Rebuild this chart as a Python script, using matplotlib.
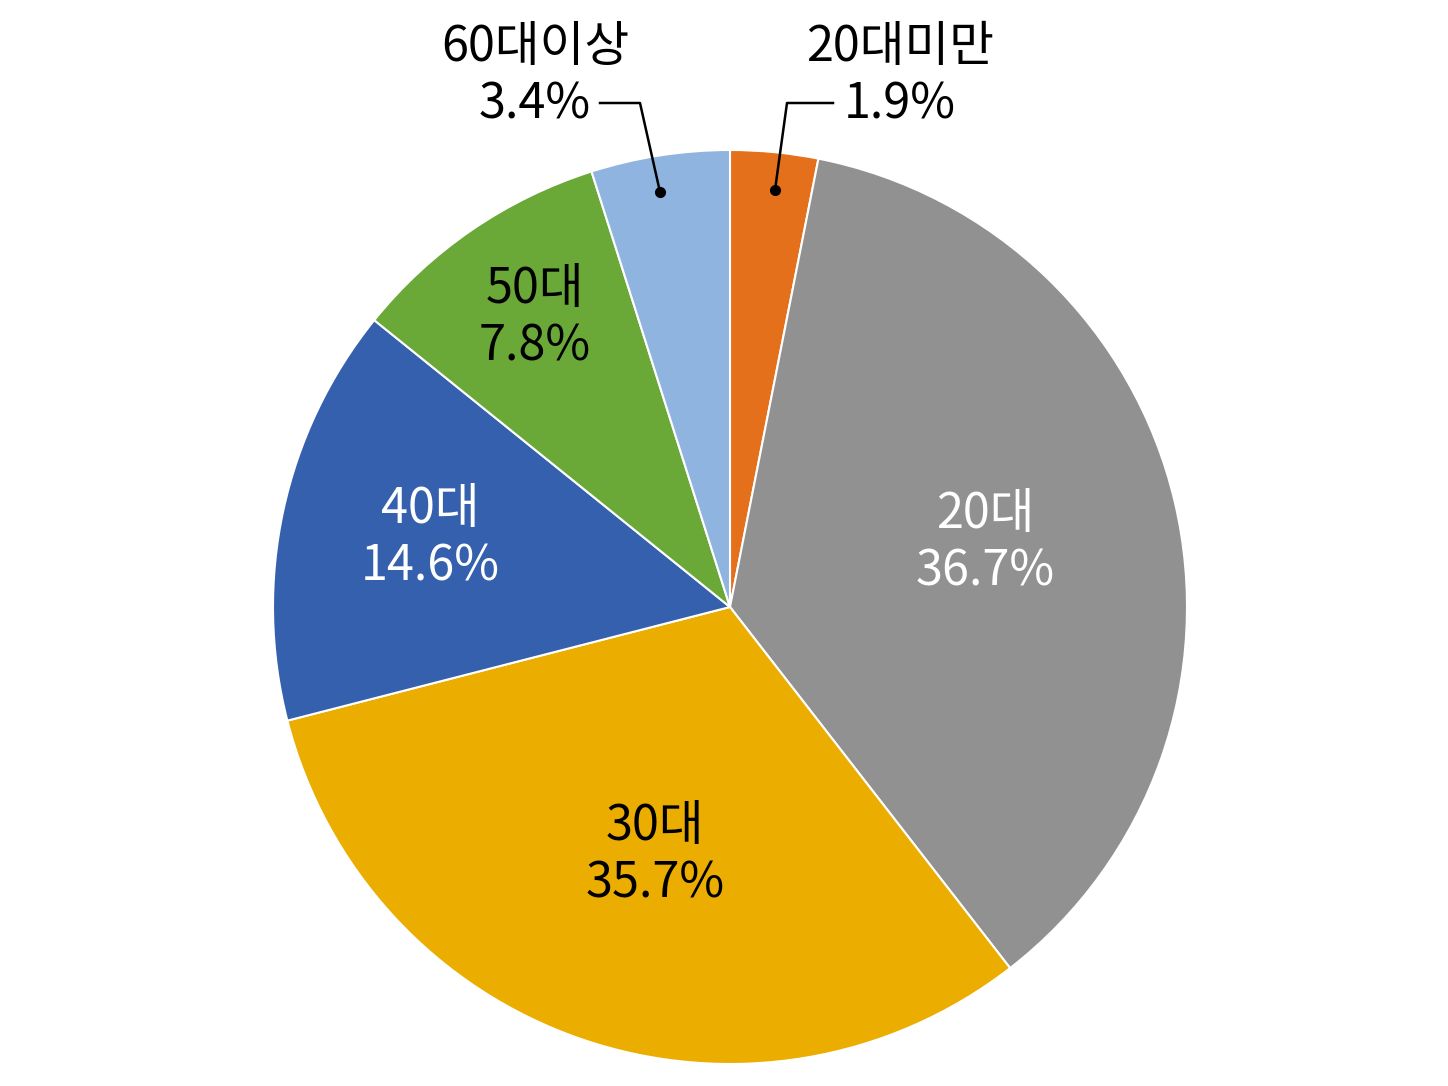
import matplotlib
matplotlib.use("Agg")
import matplotlib.pyplot as plt

plt.rcParams['font.family'] = ['Noto Sans CJK KR', 'DejaVu Sans']

categories = ['20대미만', '20대', '30대', '40대', '50대', '60대이상']
# percentages printed in the labels
label_pct = [1.9, 36.7, 35.7, 14.6, 7.8, 3.4]
# slice sizes as drawn in the picture (measured from the wedge angles)
drawn_share = [3.1, 36.4, 31.5, 14.8, 9.3, 4.9]
colors = ['#E4701C', '#919191', '#EBAD00', '#3560AE', '#6AA938', '#8FB4DF']

W, H = 1448, 1086
fig = plt.figure(figsize=(W / 100, H / 100), dpi=100)
ax = fig.add_axes([0, 0, 1, 1])

cx, cy, r = 730, H - 607, 457
ax.pie(drawn_share, colors=colors, startangle=90, counterclock=False,
       center=(cx, cy), radius=r, frame=True,
       wedgeprops=dict(edgecolor='white', linewidth=1.5))
ax.set_xlim(0, W)
ax.set_ylim(0, H)
ax.set_aspect('equal')
ax.axis('off')

fs = 35
inside = {
    '20대': ((985, 543), 'white'),
    '30대': ((655, 855), 'black'),
    '40대': ((430, 538), 'white'),
    '50대': ((535, 318), 'black'),
}
for cat, val in zip(categories, label_pct):
    if cat in inside:
        (x, y), c = inside[cat]
        ax.text(x, H - y, f'{cat}\n{val}%', ha='center', va='center',
                fontsize=fs, color=c, linespacing=1.2, fontweight='medium')

ax.text(535, H - 76, f'{categories[5]}\n{label_pct[5]}%', ha='center', va='center',
        fontsize=fs, color='black', linespacing=1.2, fontweight='medium')
ax.plot([600, 640, 660], [H - 103, H - 103, H - 192], color='black', lw=1.8)
ax.plot([660], [H - 192], 'o', color='black', ms=7)

ax.text(900, H - 76, f'{categories[0]}\n{label_pct[0]}%', ha='center', va='center',
        fontsize=fs, color='black', linespacing=1.2, fontweight='medium')
ax.plot([833, 787, 775], [H - 103, H - 103, H - 190], color='black', lw=1.8)
ax.plot([775], [H - 190], 'o', color='black', ms=7)

fig.savefig('out.png', dpi=100, facecolor='white')
